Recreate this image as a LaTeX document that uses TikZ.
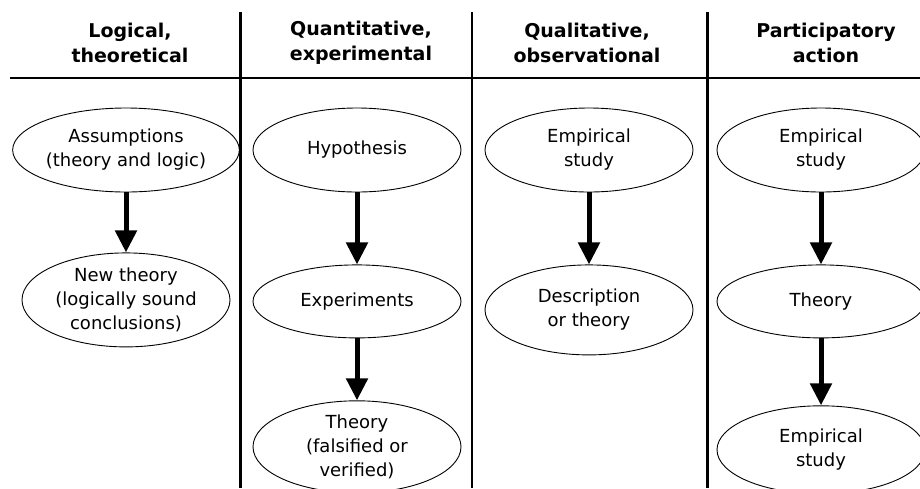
\documentclass[tikz,border=0pt]{standalone}
\usepackage{fontspec}
\setmainfont{DejaVu Sans}
\usetikzlibrary{positioning,arrows.meta,shapes.geometric}
\tikzset{
  stage/.style={ellipse, draw, line width=0.9pt, minimum width=208pt, minimum height=84pt,
                inner sep=0pt, align=center, font=\fontsize{18}{24}\selectfont},
  colhead/.style={align=center, font=\bfseries\fontsize{19}{25}\selectfont},
  flow/.style={-{Triangle[length=22pt,width=21pt]}, line width=5pt},
  thinrule/.style={line width=1.8pt},
  thickrule/.style={line width=3pt},
}
\begin{document}
\begin{tikzpicture}[x=1pt, y=-1pt]
  \useasboundingbox (0,0) rectangle (920,488);
  % table rules
  \draw[thinrule] (10,78) -- (920,78);
  \draw[thickrule] (240,12) -- (240,488);
  \draw[thinrule] (472,12) -- (472,488);
  \draw[thickrule] (707,12) -- (707,488);
  % column heads
  \node[colhead] (h1) at (130,43) {Logical,\\theoretical};
  \node[colhead] (h2) at (361,43) {Quantitative,\\experimental};
  \node[colhead] (h3) at (587,43) {Qualitative,\\observational};
  \node[colhead] (h4) at (826,43) {Participatory\\action};
  % logical
  \node[stage, minimum width=220pt] (l1) at (126,150) {Assumptions\\(theory and logic)};
  \node[stage, minimum height=94pt, below=60pt of l1] (l2) {New theory\\(logically sound\\conclusions)};
  % quantitative
  \node[stage] (q1) at (357,150) {Hypothesis};
  \node[stage, minimum height=73pt, below=72pt of q1] (q2) {Experiments};
  \node[stage, minimum height=92pt, below=62pt of q2] (q3) {Theory\\(falsified or\\verified)};
  % qualitative
  \node[stage] (o1) at (589,150) {Empirical\\study};
  \node[stage, minimum height=90pt, below=72pt of o1] (o2) {Description\\or theory};
  % participatory
  \node[stage] (p1) at (821,150) {Empirical\\study};
  \node[stage, minimum height=73pt, below=72pt of p1] (p2) {Theory};
  \node[stage, minimum height=88pt, below=67pt of p2] (p3) {Empirical\\study};
  \draw[flow] (l1.south) -- (l2.north);
  \draw[flow] (q1.south) -- (q2.north);
  \draw[flow] (q2.south) -- (q3.north);
  \draw[flow] (o1.south) -- (o2.north);
  \draw[flow] (p1.south) -- (p2.north);
  \draw[flow] (p2.south) -- (p3.north);
\end{tikzpicture}
\end{document}
